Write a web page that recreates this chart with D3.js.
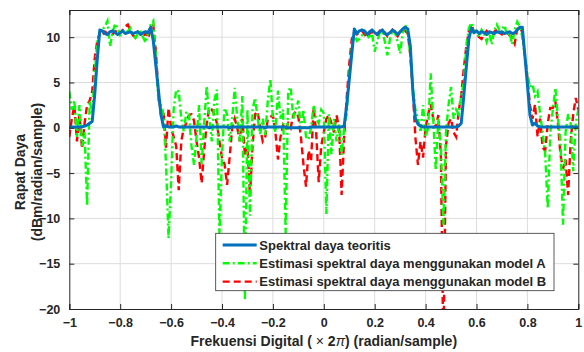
<!DOCTYPE html>
<html>
<head>
<meta charset="utf-8">
<script src="https://cdn.jsdelivr.net/npm/d3@7"></script>
<style>
  body { margin: 0; background: #fff; }
  svg text { font-family: 'Liberation Sans', Arial, sans-serif; font-weight: bold; fill: #262626; }
</style>
</head>
<body>
<div id="chart-area"></div>
<script>
// Frequency grid (x 2pi), -1 .. 1 step 0.01
const freq = d3.range(0, 201).map(i => Math.round((-1 + i * 0.01) * 100) / 100);

// Theoretical power spectrum (dBm/radian/sample)
const teoritis = [
  0.1, 0.1, 0.1, 0.1, 0.1, 0.1, 0.2, 0.3, 0.5, 0.7,
  3.7, 7.6, 10.8, 10.7, 10.4, 10.3, 10.6, 10.7, 10.5, 10.3,
  10.5, 10.7, 10.4, 10.5, 10.6, 10.4, 10.5, 10.6, 10.3, 10.5,
  10.6, 10.5, 11.1, 9.6, 6.9, 4.2, 1.5, 0.1, 0.2, 0.1,
  0.1, 0.1, 0.2, 0.1, 0.1, 0.1, 0.1, 0.1, 0.1, 0.1,
  0.1, 0.1, 0.1, 0.1, 0.1, 0.0, 0.1, 0.1, 0.1, 0.1,
  0.1, 0.1, 0.1, 0.0, 0.1, 0.1, 0.1, 0.1, 0.1, 0.1,
  0.1, 0.1, 0.1, 0.1, 0.1, 0.1, 0.1, 0.0, 0.1, 0.1,
  0.1, 0.1, 0.1, 0.1, 0.1, 0.1, 0.0, 0.0, 0.0, 0.0,
  0.0, 0.0, 0.0, 0.0, 0.0, 0.1, 0.1, 0.1, 0.1, 0.1,
  0.1, 0.1, 0.1, 0.1, 0.1, 0.1, 0.1, 0.1, 0.2, 2.5,
  5.3, 8.2, 10.9, 10.4, 10.7, 10.8, 10.7, 10.3, 10.6, 10.8,
  10.5, 10.3, 10.6, 10.8, 10.4, 10.3, 10.5, 10.8, 10.6, 10.3,
  10.6, 10.9, 11.1, 10.9, 9.0, 4.0, 1.0, 0.4, 0.2, 0.1,
  0.1, 0.1, 0.1, 0.1, 0.1, 0.1, 0.1, 0.1, 0.1, 0.1,
  0.1, 0.1, 0.1, 0.2, 0.5, 3.5, 6.7, 9.8, 11.0, 10.5,
  10.7, 10.4, 10.6, 10.5, 10.3, 10.6, 10.5, 10.4, 10.6, 10.5,
  10.6, 10.4, 10.5, 10.6, 10.4, 10.5, 10.8, 11.1, 11.1, 8.0,
  4.8, 1.4, 0.3, 0.5, 0.2, 0.1, 0.1, 0.1, 0.1, 0.1,
  0.1, 0.1, 0.1, 0.1, 0.1, 0.1, 0.1, 0.1, 0.1, 0.1,
  0.1
];

// Estimate with model A
const modelA = [
  4.0, 2.0, 3.0, -1.0, 2.5, -2.0, -0.5, -8.6, 3.0, 1.5,
  6.0, 9.5, 10.5, 10.8, 11.2, 11.8, 9.0, 10.5, 11.5, 11.0,
  10.2, 10.3, 10.8, 10.6, 11.0, 10.3, 9.9, 10.4, 10.6, 10.0,
  9.4, 10.5, 11.4, 11.8, 8.0, 3.0, 2.5, 1.5, -4.0, -12.2,
  -6.0, 2.0, 4.2, 4.0, 1.0, -0.4, 1.8, 1.5, -2.0, -4.1,
  -1.0, 2.5, -4.0, 0.5, 4.6, 1.0, -1.5, 3.0, 4.2, -11.8,
  -3.0, 2.2, 1.5, -1.5, 1.0, 4.4, 1.0, -1.5, 3.5, -19.0,
  2.0, -9.7, 2.0, 3.3, 1.0, -0.7, 1.0, -0.8, 3.0, 5.4,
  1.0, -0.5, 4.1, 1.0, 2.0, -11.7, 4.0, 4.5, 1.0, 2.0,
  3.0, -0.2, 2.0, -1.0, -1.3, 0.0, 2.5, 1.0, 0.5, 2.0,
  1.6, -9.5, 1.5, -2.9, 1.0, -1.5, 0.5, -3.0, 0.0, 1.5,
  6.0, 9.0, 10.3, 9.6, 9.8, 10.2, 10.5, 10.3, 9.8, 10.4,
  8.4, 9.5, 10.5, 10.6, 9.5, 8.0, 9.8, 10.8, 10.5, 9.5,
  8.2, 10.5, 11.4, 10.5, 8.0, 4.5, 2.0, 1.0, -0.5, 2.5,
  -1.0, 0.0, 6.0, 1.0, -4.7, 1.0, -2.0, -10.7, -0.5, 2.5,
  4.5, 1.0, 2.0, 1.5, 3.5, 5.0, 9.0, 11.0, 11.6, 10.5,
  10.6, 10.0, 10.8, 10.4, 9.5, 10.5, 9.2, 10.8, 11.4, 10.8,
  10.9, 11.3, 10.2, 10.5, 9.2, 10.8, 11.7, 11.2, 10.0, 8.0,
  6.0, 4.5, 4.8, 3.5, 4.0, 1.5, -0.5, -3.0, -8.9, -0.5,
  2.0, 4.4, 1.0, -1.5, -10.7, -0.5, 1.5, 0.5, -4.8, 0.5,
  2.0
];

// Estimate with model B
const modelB = [
  -1.0, 1.0, 2.5, -1.5, 1.5, -2.3, 0.5, 2.5, 3.0, 4.0,
  7.7, 9.6, 10.5, 10.2, 10.6, 10.4, 10.5, 10.3, 10.6, 10.8,
  10.4, 10.8, 11.2, 11.4, 10.7, 10.2, 10.0, 10.6, 10.4, 10.0,
  10.5, 9.9, 10.9, 11.3, 8.5, 4.0, 1.5, 2.0, -2.2, 2.2,
  0.0, -1.0, -2.0, -6.9, -1.5, 0.0, 0.5, 1.4, 1.5, 0.8,
  -1.5, -3.3, -6.1, -2.5, 0.5, 2.2, 2.0, 1.5, 0.5, -1.5,
  -3.3, -4.0, -6.3, -3.3, 0.0, 1.0, 0.0, -1.5, 1.0, -3.0,
  -2.0, -7.5, -2.0, 1.5, 1.8, 0.0, -1.5, -1.0, 1.0, 1.2,
  1.4, -0.5, -3.5, -1.0, 0.3, -0.2, 0.5, 0.0, 1.4, 1.8,
  1.2, -1.0, -4.0, -6.5, -2.5, -3.7, 2.2, -0.5, -6.0, -2.0,
  -0.5, 1.0, 1.4, 0.5, -0.5, 1.4, 0.0, -7.4, -1.0, 3.3,
  7.0, 9.8, 10.6, 10.3, 10.5, 10.7, 10.3, 10.0, 10.4, 10.6,
  10.2, 10.4, 10.7, 10.3, 10.5, 10.1, 10.3, 10.8, 10.4, 10.1,
  10.6, 10.9, 10.7, 10.4, 8.0, 4.0, -1.1, -4.1, -1.5, -3.3,
  0.0, 1.5, 2.6, 1.0, 0.0, 1.4, -3.0, -25.0, -2.0, 0.5,
  1.0, -0.5, -1.0, 1.8, 3.6, 6.5, 9.0, 10.7, 11.4, 10.6,
  10.3, 10.0, 9.8, 10.3, 10.7, 10.4, 10.2, 10.6, 10.9, 10.5,
  10.3, 10.6, 10.5, 10.2, 10.0, 9.3, 10.9, 11.2, 10.5, 8.0,
  5.5, 2.5, 1.0, 2.6, -1.0, 1.0, -2.2, -2.5, 0.5, 2.2,
  2.2, 2.9, 0.5, -3.0, -4.5, -3.5, -7.4, -1.5, 1.5, 3.3,
  2.0
];

const xTicks = [-1, -0.8, -0.6, -0.4, -0.2, 0, 0.2, 0.4, 0.6, 0.8, 1];
const yTicks = [-20, -15, -10, -5, 0, 5, 10];

const seriesNames = [
  'Spektral daya teoritis',
  'Estimasi spektral daya menggunakan model A',
  'Estimasi spektral daya menggunakan model B'
];

const canvasWidth = 584;
const canvasHeight = 352;
const margin = { left: 69.3, top: 10, right: 5.7, bottom: 43 };
const width = canvasWidth - margin.left - margin.right;
const height = canvasHeight - margin.top - margin.bottom;

const svg = d3
  .select('#chart-area')
  .append('svg')
  .attr('width', canvasWidth)
  .attr('height', canvasHeight);
const plot = svg.append('g').attr('transform', `translate(${margin.left},${margin.top})`);

const xScale = d3.scaleLinear().domain([-1, 1]).range([0, width]);
const yScale = d3.scaleLinear().domain([-20, 13]).range([height, 0]);

// Grid
plot
  .append('g')
  .selectAll('line')
  .data(xTicks.slice(1, -1))
  .enter()
  .append('line')
  .attr('x1', d => xScale(d))
  .attr('x2', d => xScale(d))
  .attr('y1', 0)
  .attr('y2', height)
  .attr('stroke', '#dcdcdc')
  .attr('stroke-width', 1);

plot
  .append('g')
  .selectAll('line')
  .data(yTicks.slice(1))
  .enter()
  .append('line')
  .attr('x1', 0)
  .attr('x2', width)
  .attr('y1', d => yScale(d))
  .attr('y2', d => yScale(d))
  .attr('stroke', '#dcdcdc')
  .attr('stroke-width', 1);

// Clip
svg
  .append('defs')
  .append('clipPath')
  .attr('id', 'clip')
  .append('rect')
  .attr('width', width)
  .attr('height', height);

const lines = plot.append('g').attr('clip-path', 'url(#clip)');
const line = vals =>
  d3
    .line()
    .x((d, i) => xScale(freq[i]))
    .y(d => yScale(d))(vals);

const styles = [
  { color: '#0072bd', width: 3, dash: null },
  { color: '#00ff00', width: 2.4, dash: '7,3,2,3' },
  { color: '#ff0000', width: 2.4, dash: '7,4' }
];

lines
  .append('path')
  .attr('d', line(modelB))
  .attr('fill', 'none')
  .attr('stroke', styles[2].color)
  .attr('stroke-width', styles[2].width)
  .attr('stroke-dasharray', styles[2].dash);

lines
  .append('path')
  .attr('d', line(modelA))
  .attr('fill', 'none')
  .attr('stroke', styles[1].color)
  .attr('stroke-width', styles[1].width)
  .attr('stroke-dasharray', styles[1].dash);

lines
  .append('path')
  .attr('d', line(teoritis))
  .attr('fill', 'none')
  .attr('stroke', styles[0].color)
  .attr('stroke-width', styles[0].width)
  .attr('stroke-linejoin', 'round');

// Axes
const xAxis = d3.axisBottom(xScale).tickValues(xTicks).tickSize(-5).tickPadding(9).tickFormat(d3.format('~g'));
const xAxisTop = d3.axisTop(xScale).tickValues(xTicks).tickSize(-5).tickFormat('');
const yAxis = d3.axisLeft(yScale).tickValues(yTicks).tickSize(-5).tickPadding(9);
const yAxisRight = d3.axisRight(yScale).tickValues(yTicks).tickSize(-5).tickFormat('');

const styleAxis = g => {
  g.select('.domain').attr('stroke', '#262626').attr('stroke-width', 1);
  g.selectAll('.tick line').attr('stroke', '#262626');
  g.selectAll('.tick text').attr('font-size', '12.5px').attr('fill', '#262626');
};

plot.append('g').attr('transform', `translate(0,${height})`).call(xAxis).call(styleAxis);
plot.append('g').call(xAxisTop).call(styleAxis);
plot.append('g').call(yAxis).call(styleAxis);
plot.append('g').attr('transform', `translate(${width},0)`).call(yAxisRight).call(styleAxis);
svg.selectAll('.tick text').attr('font-family', null).attr('font-weight', 'bold');

// X-Axis-Label
const xLabel = plot
  .append('text')
  .attr('x', width / 2)
  .attr('y', height + 37)
  .attr('text-anchor', 'middle')
  .attr('font-size', '14px');
xLabel.append('tspan').text('Frekuensi Digital ( ');
xLabel.append('tspan').attr('font-weight', 'normal').text('\u00d7');
xLabel.append('tspan').text(' 2');
xLabel.append('tspan').attr('font-style', 'italic').attr('font-weight', 'normal').text('\u03c0');
xLabel.append('tspan').text(') (radian/sample)');

// Y-Axis-Label
const yLabel = svg
  .append('text')
  .attr('transform', 'translate(25,172) rotate(-90)')
  .attr('text-anchor', 'middle')
  .attr('font-size', '14px');
yLabel.append('tspan').attr('x', 0).attr('dy', 0).text('Rapat Daya');
yLabel.append('tspan').attr('x', 0).attr('dy', 17).text('(dBm/radian/sample)');

// Legend
const legend = svg.append('g').attr('transform', 'translate(215.7,233.3)');
legend
  .append('rect')
  .attr('width', 338.3)
  .attr('height', 57.4)
  .attr('fill', '#fff')
  .attr('stroke', '#333')
  .attr('stroke-width', 0.8);

const legendRows = legend
  .selectAll('g.row')
  .data(seriesNames)
  .enter()
  .append('g')
  .attr('class', 'row')
  .attr('transform', (d, i) => `translate(0,${11.7 + i * 18.3})`);

legendRows
  .append('line')
  .attr('x1', 7)
  .attr('x2', 41)
  .attr('stroke', (d, i) => styles[i].color)
  .attr('stroke-width', (d, i) => styles[i].width)
  .attr('stroke-dasharray', (d, i) => styles[i].dash);

legendRows
  .append('text')
  .attr('x', 43.6)
  .attr('y', 4.5)
  .attr('font-size', '13px')
  .text(d => d);
</script>
</body>
</html>
